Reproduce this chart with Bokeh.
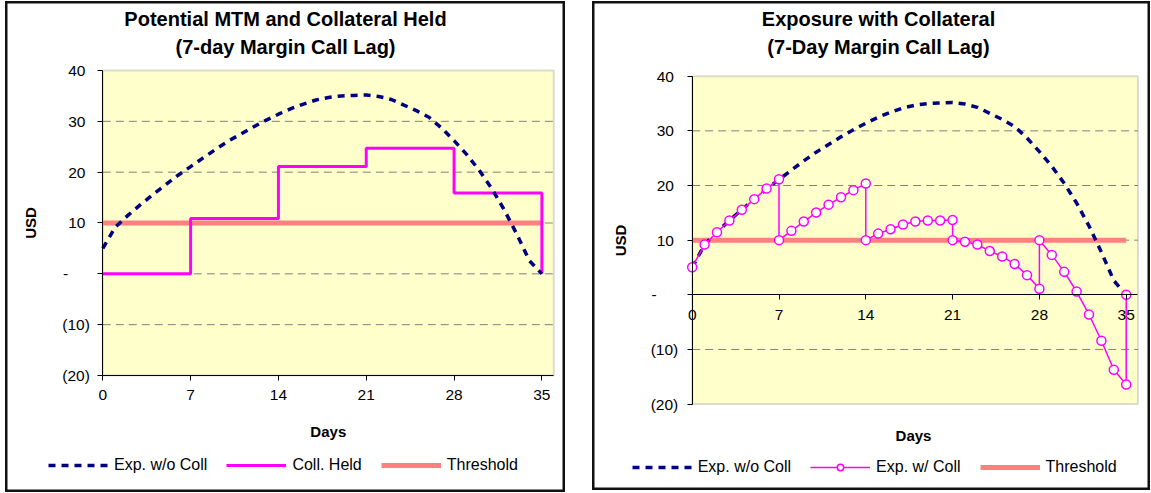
from bokeh.plotting import figure
from bokeh.models import FixedTicker, Legend, LegendItem, Label, BoxAnnotation
from bokeh.layouts import row
from bokeh.embed import file_html
from bokeh.resources import INLINE

# ---- data -------------------------------------------------------------
days = list(range(36))
exp_wo_coll = [5.0, 9.2, 11.5, 13.6, 15.6, 17.5, 19.4, 21.1, 22.8, 24.5,
               26.1, 27.5, 28.9, 30.2, 31.4, 32.5, 33.4, 34.2, 34.7, 35.0,
               35.1, 35.2, 34.9, 34.3, 33.2, 32.1, 30.8, 28.7, 26.2, 23.5,
               20.4, 16.8, 12.6, 7.8, 2.6, 0.0]

call_days = [0, 7, 14, 21, 28, 35]
coll_held = [0.0, 10.9, 21.1, 24.7, 15.9, 0.0]

threshold = 10.0

exp_w_coll_days = [0, 1, 2, 3, 4, 5, 6, 7,
                   7, 8, 9, 10, 11, 12, 13, 14,
                   14, 15, 16, 17, 18, 19, 20, 21,
                   21, 22, 23, 24, 25, 26, 27, 28,
                   28, 29, 30, 31, 32, 33, 34, 35,
                   35]
exp_w_coll = [5.05, 9.2, 11.45, 13.6, 15.55, 17.5, 19.45, 21.15,
              10.0, 11.7, 13.4, 15.05, 16.5, 17.85, 19.15, 20.35,
              10.0, 11.2, 12.0, 12.85, 13.4, 13.6, 13.6, 13.7,
              10.0, 9.7, 9.2, 8.0, 7.0, 5.65, 3.6, 1.1,
              10.0, 7.3, 4.2, 0.6, -3.6, -8.4, -13.7, -16.4,
              0.0]

x_ticks = [0, 7, 14, 21, 28, 35]
y_ticks = [-20, -10, 0, 10, 20, 30, 40]
y_tick_labels = ["(20)", "(10)", "-", "10", "20", "30", "40"]

# ---- styling ----------------------------------------------------------
FONT = "Liberation Sans"
NAVY = "#000080"
MAGENTA = "#FF00FF"
SALMON = "#FF8080"
AREA = "#FFFFCC"
NBSP = "\u00a0"
X_END = 35.95                       # right edge of the plotting area (days)
Y_MIN, Y_MAX = y_ticks[0], y_ticks[-1]
EXP_DASH = "7 6"


def accounting(label):
    # positive numbers leave room for a closing bracket, zero shows as a dash
    if label == "-":
        return "-" + NBSP * 5
    if label.startswith("("):
        return label
    return label + NBSP


class Chart:
    """A chart box whose canvas is the whole box; the plotting area sits inside it."""

    def __init__(self, width, height, x0_px, px_per_day, ytop_px, px_per_usd):
        self.x0, self.kx = x0_px, px_per_day
        self.yt, self.ky = ytop_px, px_per_usd
        x_range = (-x0_px / px_per_day, (width - x0_px) / px_per_day)
        y_range = (Y_MAX - (height - ytop_px) / px_per_usd, Y_MAX + ytop_px / px_per_usd)
        p = figure(width=width, height=height, x_range=x_range, y_range=y_range,
                   output_backend="svg", toolbar_location=None, title=None,
                   min_border=0, background_fill_color="white",
                   border_fill_color="white")
        p.outline_line_color = "#111111"
        p.outline_line_width = 4
        p.xgrid.visible = False
        p.ygrid.visible = False
        self.p = p

        # plotting area
        p.add_layout(BoxAnnotation(left=0, right=X_END, bottom=Y_MIN, top=Y_MAX,
                                   fill_color=AREA, fill_alpha=1.0,
                                   line_color="#8C8C8C", line_width=2, level="underlay"))

        for ax in (p.xaxis[0], p.yaxis[0]):
            ax.axis_line_color = "black"
            ax.axis_line_width = 1
            ax.major_tick_line_color = "black"
            ax.major_tick_in = 0
            ax.major_tick_out = 5
            ax.minor_tick_line_color = None
            ax.major_label_text_font = FONT
            ax.major_label_text_font_size = "15.5px"
            ax.major_label_text_color = "black"
            ax.axis_label_text_font = FONT
            ax.axis_label_text_font_size = "15px"
            ax.axis_label_text_font_style = "bold"
            ax.axis_label_text_color = "black"

        p.xaxis.ticker = FixedTicker(ticks=x_ticks)
        p.xaxis.bounds = (0, X_END)
        p.xaxis.major_label_standoff = 10
        p.yaxis.ticker = FixedTicker(ticks=y_ticks)
        p.yaxis.bounds = (Y_MIN, Y_MAX)
        p.yaxis.fixed_location = 0
        p.yaxis.major_label_overrides = {t: accounting(l) for t, l in zip(y_ticks, y_tick_labels)}
        p.yaxis.axis_label = "USD"

    def to_x(self, px):
        return (px - self.x0) / self.kx

    def to_y(self, py):
        return Y_MAX - (py - self.yt) / self.ky

    def text(self, s, px, py, size, bold=True):
        self.p.add_layout(Label(x=self.to_x(px), y=self.to_y(py), text=s,
                                text_align="center", text_baseline="middle",
                                text_font=FONT, text_font_size=size,
                                text_font_style="bold" if bold else "normal",
                                text_color="black"))

    def grid(self, levels):
        self.p.segment(x0=0, x1=X_END, y0=levels, y1=levels,
                       line_color="#808080", line_width=1, line_dash="8 5")

    def legend(self, items, px_left, py_bottom_gap):
        self.p.add_layout(Legend(items=items, orientation="horizontal",
                                 location=(px_left, py_bottom_gap),
                                 border_line_color=None, background_fill_alpha=0,
                                 label_text_font=FONT, label_text_font_size="16px",
                                 label_text_color="black", glyph_width=60, glyph_height=16,
                                 label_standoff=6, spacing=19, padding=0, margin=0))


# ---- left: potential MTM and collateral held --------------------------
c1 = Chart(560, 491, 97.3, 12.545, 69.0, 5.0833)
p1 = c1.p
p1.xaxis.fixed_location = Y_MIN
p1.yaxis.major_label_standoff = 8
p1.yaxis.axis_label_standoff = 20
c1.grid([t for t in y_ticks[1:-1]])

r_thr1 = p1.line([days[0], days[-1]], [threshold, threshold], line_color=SALMON, line_width=5)
r_coll = p1.step(call_days, coll_held, mode="after", line_color=MAGENTA, line_width=3)
r_exp1 = p1.line(days, exp_wo_coll, line_color=NAVY, line_width=3.5, line_dash=EXP_DASH)

c1.text("Potential MTM and Collateral Held", 280, 17.5, "20px")
c1.text("(7-day Margin Call Lag)", 280, 45, "20px")
c1.text("Days", 322.8, 430, "15px")
c1.legend([
    LegendItem(label="Exp. w/o Coll", renderers=[r_exp1]),
    LegendItem(label="Coll. Held", renderers=[r_coll]),
    LegendItem(label="Threshold", renderers=[r_thr1]),
], 43, 18)

# ---- right: exposure with collateral ----------------------------------
c2 = Chart(558, 489, 99.7, 12.4, 74.7, 5.465)
p2 = c2.p
p2.xaxis.fixed_location = 0
p2.yaxis.major_label_standoff = 9
p2.yaxis.axis_label_standoff = 19
c2.grid([t for t in y_ticks[1:-1] if t != 0])

r_thr2 = p2.line([days[0], days[-1]], [threshold, threshold], line_color=SALMON, line_width=5)
r_exp2 = p2.line(days, exp_wo_coll, line_color=NAVY, line_width=3.5, line_dash=EXP_DASH)
r_wl = p2.line(exp_w_coll_days, exp_w_coll, line_color=MAGENTA, line_width=1.5)
r_wm = p2.scatter(exp_w_coll_days, exp_w_coll, marker="circle", size=9,
                  line_color=MAGENTA, line_width=1.5, fill_color="white")

c2.text("Exposure with Collateral", 286, 17.5, "20px")
c2.text("(7-Day Margin Call Lag)", 286, 45, "20px")
c2.text("Days", 321, 434, "15px")
c2.legend([
    LegendItem(label="Exp. w/o Coll", renderers=[r_exp2]),
    LegendItem(label="Exp. w/ Coll", renderers=[r_wl, r_wm]),
    LegendItem(label="Threshold", renderers=[r_thr2]),
], 39.7, 14)

layout = row(p1, p2, spacing=27)
layout.margin = (1, 0, 0, 5)

open("out.html", "w").write(file_html(layout, INLINE))
